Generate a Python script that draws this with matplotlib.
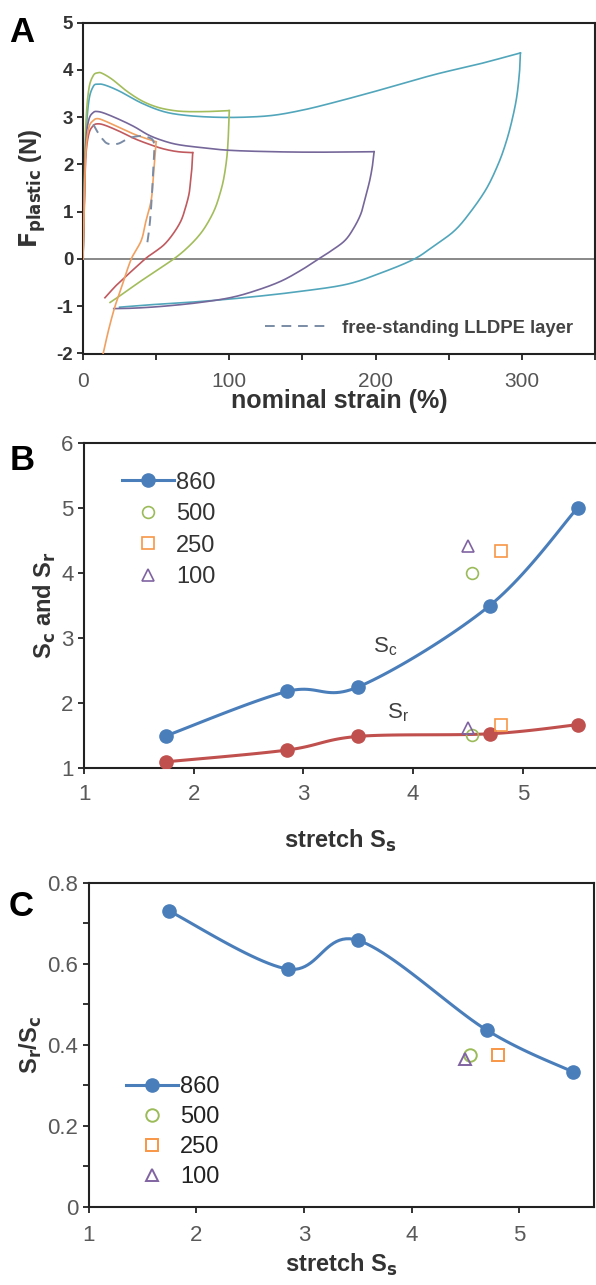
import numpy as np
import matplotlib
matplotlib.use("Agg")
import matplotlib.pyplot as plt
from matplotlib.lines import Line2D
from matplotlib.ticker import MultipleLocator

plt.rcParams['font.family'] = ['Liberation Sans', 'DejaVu Sans']
plt.rcParams['axes.unicode_minus'] = False

# ---------------- Panel A data (nominal strain %, F_plastic N) ----------------
cyan_load_x = [0, 1, 2, 4, 7, 10, 15, 25, 40, 55, 70, 90, 110, 130, 150, 170, 200, 240, 270, 299]
cyan_load_y = [0, 1.5, 2.6, 3.35, 3.65, 3.7, 3.68, 3.55, 3.3, 3.12, 3.04, 3.0, 3.0, 3.04, 3.15, 3.3, 3.55, 3.9, 4.12, 4.36]
cyan_unload_x = [299, 298.5, 296.5, 293, 289, 284, 276, 265, 254, 240, 226.5, 205, 181, 150, 113, 80, 50, 25]
cyan_unload_y = [4.36, 4.0, 3.43, 2.9, 2.45, 2.02, 1.5, 1.0, 0.6, 0.28, 0.0, -0.28, -0.53, -0.68, -0.81, -0.9, -0.96, -1.02]

green_load_x = [0, 1, 2, 4, 7, 10, 13, 20, 30, 40, 50, 60, 70, 85, 100]
green_load_y = [0, 1.8, 2.9, 3.6, 3.88, 3.94, 3.93, 3.8, 3.55, 3.35, 3.22, 3.15, 3.12, 3.12, 3.14]
green_unload_x = [100, 99.5, 98.5, 96.5, 94, 90, 84, 78, 70, 62, 50, 38, 28, 18.5]
green_unload_y = [3.14, 2.7, 2.2, 1.75, 1.42, 1.05, 0.7, 0.45, 0.2, 0.0, -0.25, -0.5, -0.72, -0.92]

purple_load_x = [0, 1, 2, 4, 7, 10, 15, 25, 35, 45, 55, 65, 80, 100, 130, 160, 199]
purple_load_y = [0, 1.5, 2.5, 2.95, 3.1, 3.12, 3.08, 2.95, 2.8, 2.62, 2.5, 2.42, 2.36, 2.3, 2.27, 2.26, 2.27]
purple_unload_x = [199, 198, 196, 193, 190, 185, 179, 170, 161, 150, 136, 120, 102, 80, 55, 35, 21]
purple_unload_y = [2.27, 2.0, 1.66, 1.3, 0.96, 0.65, 0.39, 0.18, 0.0, -0.22, -0.46, -0.65, -0.81, -0.92, -1.0, -1.04, -1.05]

red_load_x = [0, 1, 2, 4, 7, 10, 15, 25, 35, 45, 55, 65, 75]
red_load_y = [0, 1.3, 2.2, 2.65, 2.82, 2.86, 2.83, 2.7, 2.55, 2.43, 2.33, 2.27, 2.25]
red_unload_x = [75, 74.5, 73.5, 72.5, 70, 67, 62, 56, 50, 44, 37, 31, 23, 15]
red_unload_y = [2.25, 1.95, 1.65, 1.38, 1.08, 0.81, 0.55, 0.32, 0.17, 0.04, -0.15, -0.32, -0.55, -0.82]

orange_load_x = [0, 1, 2, 4, 7, 10, 15, 25, 35, 45, 50]
orange_load_y = [0, 1.4, 2.3, 2.78, 2.93, 2.97, 2.92, 2.78, 2.64, 2.53, 2.48]
orange_unload_x = [50, 49.5, 48, 46.6, 43, 39.8, 33, 26.3, 21.7, 17.5, 13.8]
orange_unload_y = [2.48, 2.3, 1.7, 1.24, 0.8, 0.39, 0.0, -0.6, -1.02, -1.5, -2.0]

lldpe_x = [7, 9.3, 13, 17, 24, 31, 38, 44, 48.5, 48, 47, 45.5, 43.5]
lldpe_y = [2.85, 2.72, 2.55, 2.44, 2.44, 2.55, 2.6, 2.58, 2.45, 1.9, 1.3, 0.7, 0.25]

# ---------------- Panel B / C data ----------------
ss_860 = [1.75, 2.85, 3.5, 4.7, 5.5]
sc_860 = [1.5, 2.18, 2.25, 3.5, 5.0]
sr_860 = [1.10, 1.28, 1.49, 1.53, 1.67]
ratio_860 = [0.73, 0.587, 0.658, 0.436, 0.333]

ss_500, sc_500, sr_500, ratio_500 = [4.54], [4.0], [1.51], [0.375]
ss_250, sc_250, sr_250, ratio_250 = [4.8], [4.34], [1.66], [0.376]
ss_100, sc_100, sr_100, ratio_100 = [4.5], [4.42], [1.62], [0.365]

legend_labels = ['860', '500', '250', '100']

C_BLUE = '#4a7ebb'
C_RED = '#c0504d'
C_GREEN = '#9bbb59'
C_ORANGE = '#f79646'
C_PURPLE = '#8064a2'
TICK_GRAY = '#595959'


def smooth_line(ax, x, y, n=24):
    """Excel-style smoothed line (Catmull-Rom Bezier) computed in display space."""
    pts = ax.transData.transform(np.column_stack([x, y]))
    if len(pts) < 3:
        return ax.transData.inverted().transform(pts)
    P = np.vstack([pts[0], pts, pts[-1]])
    out = []
    t = np.linspace(0, 1, n)[:, None]
    for i in range(1, len(P) - 2):
        p0, p1, p2, p3 = P[i - 1], P[i], P[i + 1], P[i + 2]
        c1 = p1 + (p2 - p0) / 6.0
        c2 = p2 - (p3 - p1) / 6.0
        seg = ((1 - t) ** 3) * p1 + 3 * ((1 - t) ** 2) * t * c1 + 3 * (1 - t) * t ** 2 * c2 + t ** 3 * p2
        out.append(seg if i == 1 else seg[1:])
    out = np.vstack(out)
    return ax.transData.inverted().transform(out)


W, H = 596, 1285
fig = plt.figure(figsize=(W / 100, H / 100), dpi=100)


def pos(l, r, t, b):
    return [l / W, 1 - b / H, (r - l) / W, (b - t) / H]


# ====================== Panel A ======================
axA = fig.add_axes(pos(83, 595, 22.7, 353.5))
axA.set_xlim(0, 350)
axA.set_ylim(-2, 5)
axA.axhline(0, color='#7f7f7f', lw=1.3, zorder=1)

curvesA = [
    (cyan_load_x, cyan_load_y, cyan_unload_x, cyan_unload_y, '#52a6bb'),
    (green_load_x, green_load_y, green_unload_x, green_unload_y, '#a3bd5c'),
    (purple_load_x, purple_load_y, purple_unload_x, purple_unload_y, '#76679a'),
    (red_load_x, red_load_y, red_unload_x, red_unload_y, '#c05a5f'),
    (orange_load_x, orange_load_y, orange_unload_x, orange_unload_y, '#f0a060'),
]
for lx, ly, ux, uy, col in curvesA:
    for xs, ys in ((lx, ly), (ux, uy)):
        s = smooth_line(axA, xs, ys)
        axA.plot(s[:, 0], s[:, 1], color=col, lw=1.2, zorder=3)
s = smooth_line(axA, lldpe_x, lldpe_y)
axA.plot(s[:, 0], s[:, 1], color='#7a8ca5', lw=1.4, ls=(0, (5, 3.5)), zorder=4)

axA.xaxis.set_major_locator(MultipleLocator(100))
axA.xaxis.set_minor_locator(MultipleLocator(50))
axA.yaxis.set_major_locator(MultipleLocator(1))
axA.tick_params(which='both', direction='out', length=4, width=1.3, color='#222222')
axA.tick_params(axis='x', labelsize=15, labelcolor='#555555', pad=9)
axA.tick_params(axis='y', labelsize=13.5, labelcolor='#333333', pad=3)
for lab in axA.get_yticklabels():
    lab.set_fontweight('bold')
for sp in axA.spines.values():
    sp.set_linewidth(1.5)
    sp.set_color('#222222')
axA.set_xlabel('nominal strain (%)', fontsize=18, fontweight='bold', color='#333333', labelpad=-1)
axA.set_ylabel(r'$\mathbf{F_{plastic}}$ (N)', fontsize=17, fontweight='bold', color='#333333', labelpad=6)
leg = axA.legend(handles=[Line2D([], [], color='#7a8ca5', lw=1.4, ls=(0, (5, 3.5)))],
                 labels=['free-standing LLDPE layer'], loc='lower right',
                 bbox_to_anchor=(0.99, 0.0), frameon=False, handlelength=3.3,
                 handletextpad=0.85, prop={'size': 13.3, 'weight': 'bold'})
for t in leg.get_texts():
    t.set_color('#444444')

# ====================== Panel B ======================
axB = fig.add_axes(pos(84, 596, 442.7, 768.3))
axB.set_xlim(1, 1 + (596 - 84) / 109.7)
axB.set_ylim(1, 6)
s = smooth_line(axB, ss_860, sc_860)
axB.plot(s[:, 0], s[:, 1], color=C_BLUE, lw=2.2, zorder=3)
axB.plot(ss_860, sc_860, 'o', color=C_BLUE, ms=9.5, zorder=4)
s = smooth_line(axB, ss_860, sr_860)
axB.plot(s[:, 0], s[:, 1], color=C_RED, lw=2.2, zorder=3)
axB.plot(ss_860, sr_860, 'o', color=C_RED, ms=9.5, zorder=4)
for xs, a, b, m, col in ((ss_500, sc_500, sr_500, 'o', C_GREEN),
                         (ss_250, sc_250, sr_250, 's', C_ORANGE),
                         (ss_100, sc_100, sr_100, '^', C_PURPLE)):
    axB.plot(xs + xs, a + b, m, mfc='none', mec=col, mew=1.2, ms=8.5, zorder=5)
axB.text(3.75, 2.87, r'S$_\mathregular{c}$', fontsize=16, color='#404040', ha='center', va='center')
axB.text(3.86, 1.86, r'S$_\mathregular{r}$', fontsize=16, color='#404040', ha='center', va='center')

hB = [Line2D([], [], color=C_BLUE, lw=2.2, marker='o', ms=9.5),
      Line2D([], [], ls='none', marker='o', mfc='none', mec=C_GREEN, mew=1.2, ms=8.5),
      Line2D([], [], ls='none', marker='s', mfc='none', mec=C_ORANGE, mew=1.2, ms=8.5),
      Line2D([], [], ls='none', marker='^', mfc='none', mec=C_PURPLE, mew=1.2, ms=8.5)]
legB = axB.legend(hB, legend_labels, loc='upper left', bbox_to_anchor=(0.055, 0.94), frameon=False,
                  fontsize=17, handlelength=2.2, handletextpad=0.1, labelspacing=0.4, borderaxespad=0)
for t in legB.get_texts():
    t.set_color('#333333')

axB.xaxis.set_major_locator(MultipleLocator(1))
axB.yaxis.set_major_locator(MultipleLocator(1))
axB.tick_params(direction='out', length=4, width=1.3, color='#222222', labelsize=16,
                labelcolor=TICK_GRAY)
axB.tick_params(axis='x', pad=7)
axB.spines['right'].set_visible(False)
for sp in axB.spines.values():
    sp.set_linewidth(1.5)
    sp.set_color('#222222')
axB.set_xlabel(r'stretch S$_\mathbf{s}$', fontsize=17, fontweight='bold', color='#333333', labelpad=17)
axB.set_ylabel(r'S$_\mathbf{c}$ and S$_\mathbf{r}$', fontsize=17, fontweight='bold', color='#333333', labelpad=2)

# ====================== Panel C ======================
axC = fig.add_axes(pos(88.5, 593.5, 882.7, 1207))
axC.set_xlim(1, 1 + (593.5 - 88.5) / 107.7)
axC.set_ylim(0, 0.8)
s = smooth_line(axC, ss_860, ratio_860)
axC.plot(s[:, 0], s[:, 1], color=C_BLUE, lw=2.2, zorder=3)
axC.plot(ss_860, ratio_860, 'o', color=C_BLUE, ms=9.5, zorder=4)
for xs, r, m, col in ((ss_500, ratio_500, 'o', C_GREEN),
                      (ss_250, ratio_250, 's', C_ORANGE),
                      (ss_100, ratio_100, '^', C_PURPLE)):
    axC.plot(xs, r, m, mfc='none', mec=col, mew=1.4, ms=9, zorder=5)
hC = [Line2D([], [], color=C_BLUE, lw=2.2, marker='o', ms=9.5),
      Line2D([], [], ls='none', marker='o', mfc='none', mec=C_GREEN, mew=1.4, ms=9),
      Line2D([], [], ls='none', marker='s', mfc='none', mec=C_ORANGE, mew=1.4, ms=9),
      Line2D([], [], ls='none', marker='^', mfc='none', mec=C_PURPLE, mew=1.4, ms=9)]
legC = axC.legend(hC, legend_labels, loc='lower left', bbox_to_anchor=(0.055, 0.03), frameon=False,
                  fontsize=17, handlelength=2.2, handletextpad=0.1, labelspacing=0.33, borderaxespad=0)
for t in legC.get_texts():
    t.set_color('#222222')
axC.xaxis.set_major_locator(MultipleLocator(1))
axC.yaxis.set_major_locator(MultipleLocator(0.2))
axC.yaxis.set_minor_locator(MultipleLocator(0.1))
axC.yaxis.set_major_formatter(matplotlib.ticker.FuncFormatter(lambda v, p: '0' if abs(v) < 1e-9 else f'{v:.1f}'))
axC.tick_params(which='both', direction='out', length=4, width=1.3, color='#222222', labelsize=16,
                labelcolor=TICK_GRAY)
axC.tick_params(axis='x', pad=9)
for sp in axC.spines.values():
    sp.set_linewidth(1.5)
    sp.set_color('#222222')
axC.set_xlabel(r'stretch S$_\mathbf{s}$', fontsize=17, fontweight='bold', color='#333333', labelpad=4)
axC.set_ylabel(r'S$_\mathbf{r}$/S$_\mathbf{c}$', fontsize=17, fontweight='bold', color='#333333', labelpad=2)

# panel letters
fig.text(22 / W, 1 - 33 / H, 'A', fontsize=25, fontweight='bold', ha='center', va='center')
fig.text(22 / W, 1 - 460 / H, 'B', fontsize=25, fontweight='bold', ha='center', va='center')
fig.text(21 / W, 1 - 907 / H, 'C', fontsize=25, fontweight='bold', ha='center', va='center')

fig.savefig('out.png', dpi=100)
